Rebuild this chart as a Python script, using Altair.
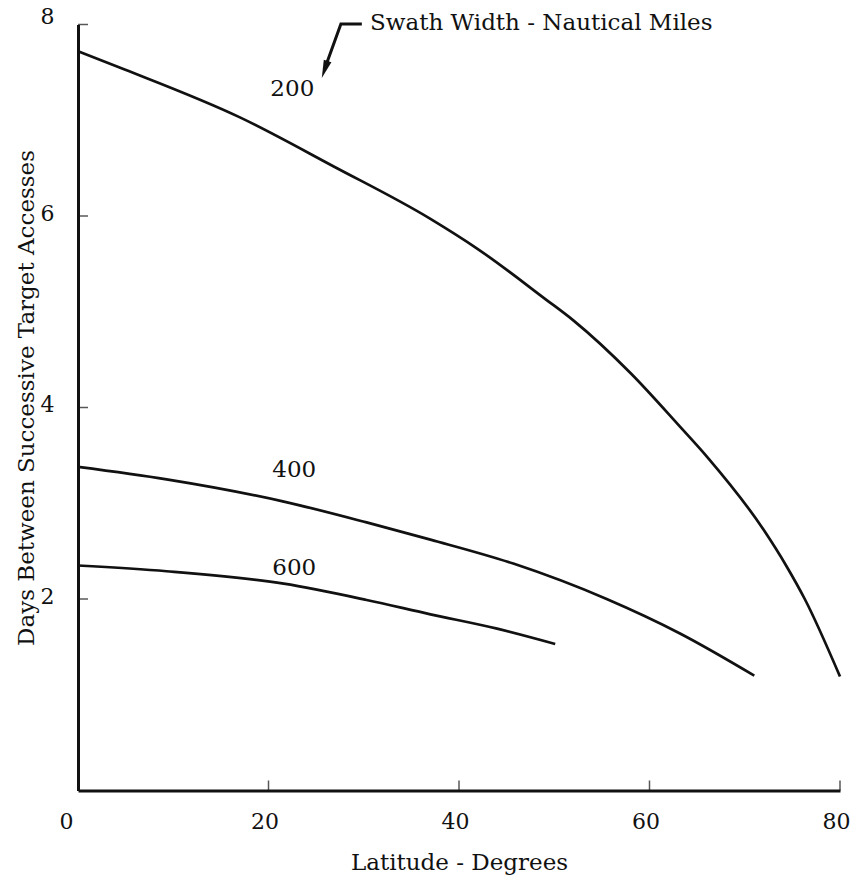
import altair as alt
import pandas as pd

# ---- data ----
lat_200 = [0, 4.9, 17.0, 26.8, 37.0, 41.9, 49.1, 52.0, 58.0, 63.2, 66.0, 72.0, 74.4, 76.3, 80.0]
days_200 = [7.72, 7.53, 7.03, 6.52, 5.97, 5.66, 5.13, 4.91, 4.36, 3.80, 3.49, 2.72, 2.34, 2.00, 1.19]

lat_400 = [0, 9.3, 21.5, 30.3, 37.0, 45.7, 55.5, 63.2, 71.0]
days_400 = [3.38, 3.25, 3.02, 2.80, 2.62, 2.37, 2.00, 1.64, 1.20]

lat_600 = [0, 9.3, 21.6, 30.3, 37.0, 44.0, 50.1]
days_600 = [2.35, 2.29, 2.16, 1.99, 1.84, 1.69, 1.53]

curve_names = ["200", "400", "600"]
curve_label_x = [22.5, 22.7, 22.7]
curve_label_y = [7.33, 3.35, 2.32]

x_tick_values = [0, 20, 40, 60, 80]
x_inner_ticks = [20, 40, 60, 80]
y_tick_values = [2, 4, 6, 8]

note_text = ["Swath Width - Nautical Miles"]
note_x = [30.66]
note_y = [8.02]

arrow_x = [29.8, 27.6, 25.95]
arrow_y = [8.005, 8.005, 7.55]
arrow_head_x = [25.9]
arrow_head_y = [7.53]

FONT = "DejaVu Serif"
INK = "#111111"
FS = 23

rows = []
for name, xs, ys in zip(curve_names, [lat_200, lat_400, lat_600], [days_200, days_400, days_600]):
    for x, y in zip(xs, ys):
        rows.append({"lat": x, "days": y, "swath": name})
df = pd.DataFrame(rows)

xscale = alt.Scale(domain=[0, 80], nice=False, zero=False)
yscale = alt.Scale(domain=[0, 8], nice=False, zero=False)

x_axis = alt.Axis(
    values=x_tick_values, tickSize=0, grid=False, domainColor=INK, domainWidth=3,
    format="d",
    labelFont=FONT, labelFontSize=FS - 1, labelColor=INK, labelPadding=21,
    labelBaseline="top", labelFlush=False,
    labelOffset={"condition": {"test": "datum.value == 0", "value": -12}, "value": -4},
    title="Latitude - Degrees", titleFont=FONT, titleFontSize=FS, titleFontWeight="normal",
    titleColor=INK, titleBaseline="alphabetic", titleY=79,
)
y_axis = alt.Axis(
    values=y_tick_values, tickSize=0, grid=False, domainColor=INK, domainWidth=3,
    format="d",
    labelFont=FONT, labelFontSize=FS - 1, labelColor=INK, labelPadding=24,
    labelOffset={"condition": {"test": "datum.value == 8", "value": -8}, "value": -3},
    labelFlush=False,
    title="Days Between Successive Target Accesses", titleFont=FONT, titleFontSize=FS,
    titleFontWeight="normal", titleColor=INK, titleAngle=270, titleBaseline="alphabetic",
    titleAlign="center", titleX=-45, titleY=373,
)

lines = alt.Chart(df).mark_line(color=INK, strokeWidth=2.7, interpolate="monotone", clip=False).encode(
    x=alt.X("lat:Q", scale=xscale, axis=x_axis),
    y=alt.Y("days:Q", scale=yscale, axis=y_axis),
    detail="swath:N",
)

labels_df = pd.DataFrame({"x": curve_label_x, "y": curve_label_y, "t": curve_names})
curve_labels = alt.Chart(labels_df).mark_text(font=FONT, fontSize=FS, color=INK, align="center", baseline="middle").encode(
    x=alt.X("x:Q", scale=xscale), y=alt.Y("y:Q", scale=yscale), text="t:N"
)

note_df = pd.DataFrame({"x": note_x, "y": note_y, "t": note_text})
note = alt.Chart(note_df).mark_text(font=FONT, fontSize=FS, color=INK, align="left", baseline="middle").encode(
    x=alt.X("x:Q", scale=xscale), y=alt.Y("y:Q", scale=yscale), text="t:N"
)

arrow_df = pd.DataFrame({"x": arrow_x, "y": arrow_y, "o": list(range(len(arrow_x)))})
arrow = alt.Chart(arrow_df).mark_line(color=INK, strokeWidth=3, clip=False).encode(
    x=alt.X("x:Q", scale=xscale), y=alt.Y("y:Q", scale=yscale), order="o:Q"
)
head_df = pd.DataFrame({"x": arrow_head_x, "y": arrow_head_y})
head = alt.Chart(head_df).mark_point(shape="M-0.45,-1L0.45,-1L0,1Z", filled=True, color=INK, size=320, angle=19, opacity=1).encode(
    x=alt.X("x:Q", scale=xscale), y=alt.Y("y:Q", scale=yscale)
)

xt_df = pd.DataFrame({"x": x_inner_ticks, "y": [0] * len(x_inner_ticks)})
xticks = alt.Chart(xt_df).mark_tick(orient="vertical", size=10, thickness=1.5, color=INK, yOffset=-5).encode(
    x=alt.X("x:Q", scale=xscale), y=alt.Y("y:Q", scale=yscale)
)
yt_df = pd.DataFrame({"x": [0] * len(y_tick_values), "y": y_tick_values})
yticks = alt.Chart(yt_df).mark_tick(orient="horizontal", size=10, thickness=1.5, color=INK, xOffset=5).encode(
    x=alt.X("x:Q", scale=xscale), y=alt.Y("y:Q", scale=yscale)
)

chart = alt.layer(lines, curve_labels, note, arrow, head, xticks, yticks).properties(
    width=762, height=766,
    autosize=alt.AutoSizeParams(type="none"),
    padding={"left": 78, "top": 24.5, "right": 19, "bottom": 91.5},
    background="white",
).configure_view(stroke=None)

chart.save("out.html", embed_options={"renderer": "svg", "actions": False})
